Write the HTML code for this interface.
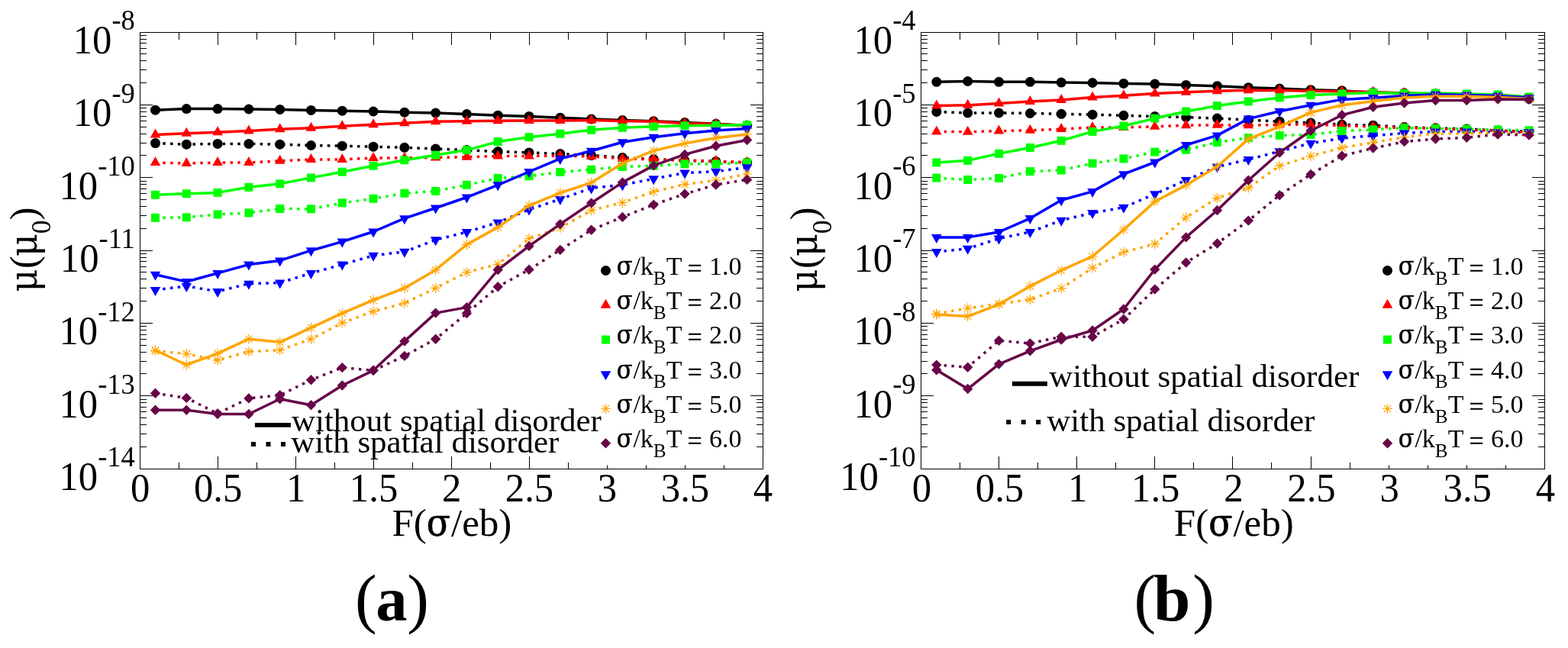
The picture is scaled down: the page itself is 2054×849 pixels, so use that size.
<!DOCTYPE html><html><head><meta charset="utf-8"><title>mobility plot</title><style>html,body{margin:0;padding:0;background:#fff;}svg{display:block;}</style></head><body><svg width="2054" height="849" viewBox="0 0 2054 849" font-family="'Liberation Serif', 'Times New Roman', serif"><rect width="2054" height="849" fill="#fff"/>
<path d="M234.5 614.5V605.5M234.5 42.5V51.5M285.5 614.5V598M285.5 42.5V59M336.5 614.5V605.5M336.5 42.5V51.5M387.5 614.5V598M387.5 42.5V59M438.5 614.5V605.5M438.5 42.5V51.5M489.5 614.5V598M489.5 42.5V59M540.5 614.5V605.5M540.5 42.5V51.5M591.5 614.5V598M591.5 42.5V59M642.5 614.5V605.5M642.5 42.5V51.5M693.5 614.5V598M693.5 42.5V59M744.5 614.5V605.5M744.5 42.5V51.5M795.5 614.5V598M795.5 42.5V59M846.5 614.5V605.5M846.5 42.5V51.5M897.5 614.5V598M897.5 42.5V59M948.5 614.5V605.5M948.5 42.5V51.5M183.5 137.5H200M999.5 137.5H983M183.5 108.5H192M999.5 108.5H991M183.5 91.5H192M999.5 91.5H991M183.5 79.5H192M999.5 79.5H991M183.5 70.5H192M999.5 70.5H991M183.5 63.5H192M999.5 63.5H991M183.5 56.5H192M999.5 56.5H991M183.5 51.5H192M999.5 51.5H991M183.5 46.5H192M999.5 46.5H991M183.5 232.5H200M999.5 232.5H983M183.5 203.5H192M999.5 203.5H991M183.5 187.5H192M999.5 187.5H991M183.5 175.5H192M999.5 175.5H991M183.5 166.5H192M999.5 166.5H991M183.5 158.5H192M999.5 158.5H991M183.5 152.5H192M999.5 152.5H991M183.5 146.5H192M999.5 146.5H991M183.5 141.5H192M999.5 141.5H991M183.5 328.5H200M999.5 328.5H983M183.5 299.5H192M999.5 299.5H991M183.5 282.5H192M999.5 282.5H991M183.5 270.5H192M999.5 270.5H991M183.5 261.5H192M999.5 261.5H991M183.5 253.5H192M999.5 253.5H991M183.5 247.5H192M999.5 247.5H991M183.5 241.5H192M999.5 241.5H991M183.5 237.5H192M999.5 237.5H991M183.5 423.5H200M999.5 423.5H983M183.5 394.5H192M999.5 394.5H991M183.5 377.5H192M999.5 377.5H991M183.5 365.5H192M999.5 365.5H991M183.5 356.5H192M999.5 356.5H991M183.5 349.5H192M999.5 349.5H991M183.5 342.5H192M999.5 342.5H991M183.5 337.5H192M999.5 337.5H991M183.5 332.5H192M999.5 332.5H991M183.5 518.5H200M999.5 518.5H983M183.5 489.5H192M999.5 489.5H991M183.5 473.5H192M999.5 473.5H991M183.5 461.5H192M999.5 461.5H991M183.5 452.5H192M999.5 452.5H991M183.5 444.5H192M999.5 444.5H991M183.5 438.5H192M999.5 438.5H991M183.5 432.5H192M999.5 432.5H991M183.5 427.5H192M999.5 427.5H991M183.5 585.5H192M999.5 585.5H991M183.5 568.5H192M999.5 568.5H991M183.5 556.5H192M999.5 556.5H991M183.5 547.5H192M999.5 547.5H991M183.5 539.5H192M999.5 539.5H991M183.5 533.5H192M999.5 533.5H991M183.5 527.5H192M999.5 527.5H991M183.5 523.5H192M999.5 523.5H991" stroke="#000" stroke-width="1" fill="none" shape-rendering="crispEdges"/>
<rect x="183.5" y="42.5" width="816" height="572" fill="none" stroke="#000" stroke-width="1" shape-rendering="crispEdges"/>
<text transform="translate(183.6,657.2) scale(1,1.04)" font-size="50.7" text-anchor="middle">0</text>
<text transform="translate(285.59,657.2) scale(1,1.04)" font-size="50.7" text-anchor="middle">0.5</text>
<text transform="translate(387.57,657.2) scale(1,1.04)" font-size="50.7" text-anchor="middle">1</text>
<text transform="translate(489.56,657.2) scale(1,1.04)" font-size="50.7" text-anchor="middle">1.5</text>
<text transform="translate(591.55,657.2) scale(1,1.04)" font-size="50.7" text-anchor="middle">2</text>
<text transform="translate(693.54,657.2) scale(1,1.04)" font-size="50.7" text-anchor="middle">2.5</text>
<text transform="translate(795.52,657.2) scale(1,1.04)" font-size="50.7" text-anchor="middle">3</text>
<text transform="translate(897.51,657.2) scale(1,1.04)" font-size="50.7" text-anchor="middle">3.5</text>
<text transform="translate(999.5,657.2) scale(1,1.04)" font-size="50.7" text-anchor="middle">4</text>
<text transform="translate(176.8,70) scale(1,1.04)" font-size="50.7" text-anchor="end">10<tspan font-size="36.5" dy="-29.5">-8</tspan></text>
<text transform="translate(176.8,165.3) scale(1,1.04)" font-size="50.7" text-anchor="end">10<tspan font-size="36.5" dy="-29.5">-9</tspan></text>
<text transform="translate(176.8,260.6) scale(1,1.04)" font-size="50.7" text-anchor="end">10<tspan font-size="36.5" dy="-29.5">-10</tspan></text>
<text transform="translate(176.8,355.9) scale(1,1.04)" font-size="50.7" text-anchor="end">10<tspan font-size="36.5" dy="-29.5">-11</tspan></text>
<text transform="translate(176.8,451.2) scale(1,1.04)" font-size="50.7" text-anchor="end">10<tspan font-size="36.5" dy="-29.5">-12</tspan></text>
<text transform="translate(176.8,546.5) scale(1,1.04)" font-size="50.7" text-anchor="end">10<tspan font-size="36.5" dy="-29.5">-13</tspan></text>
<text transform="translate(176.8,641.8) scale(1,1.04)" font-size="50.7" text-anchor="end">10<tspan font-size="36.5" dy="-29.5">-14</tspan></text>
<polyline points="203.5,144.2 244.29,142.6 285.09,142.6 325.88,143 366.68,143.4 407.47,144.4 448.27,145.2 489.06,146 529.86,147.2 570.65,148 611.45,149.5 652.24,151.2 693.04,152.4 733.83,154.2 774.63,156 815.42,157.5 856.22,158.8 897.01,160.5 937.81,162.3 978.6,164.5" fill="none" stroke="#000000" stroke-width="3.5" stroke-linejoin="round"/>
<circle cx="203.5" cy="144.2" r="6.5" fill="#000000"/>
<circle cx="244.29" cy="142.6" r="6.5" fill="#000000"/>
<circle cx="285.09" cy="142.6" r="6.5" fill="#000000"/>
<circle cx="325.88" cy="143" r="6.5" fill="#000000"/>
<circle cx="366.68" cy="143.4" r="6.5" fill="#000000"/>
<circle cx="407.47" cy="144.4" r="6.5" fill="#000000"/>
<circle cx="448.27" cy="145.2" r="6.5" fill="#000000"/>
<circle cx="489.06" cy="146" r="6.5" fill="#000000"/>
<circle cx="529.86" cy="147.2" r="6.5" fill="#000000"/>
<circle cx="570.65" cy="148" r="6.5" fill="#000000"/>
<circle cx="611.45" cy="149.5" r="6.5" fill="#000000"/>
<circle cx="652.24" cy="151.2" r="6.5" fill="#000000"/>
<circle cx="693.04" cy="152.4" r="6.5" fill="#000000"/>
<circle cx="733.83" cy="154.2" r="6.5" fill="#000000"/>
<circle cx="774.63" cy="156" r="6.5" fill="#000000"/>
<circle cx="815.42" cy="157.5" r="6.5" fill="#000000"/>
<circle cx="856.22" cy="158.8" r="6.5" fill="#000000"/>
<circle cx="897.01" cy="160.5" r="6.5" fill="#000000"/>
<circle cx="937.81" cy="162.3" r="6.5" fill="#000000"/>
<circle cx="978.6" cy="164.5" r="6.5" fill="#000000"/>
<polyline points="203.5,187.6 244.29,189.2 285.09,188.4 325.88,188.4 366.68,189.2 407.47,190.5 448.27,191.2 489.06,192.2 529.86,193.3 570.65,195 611.45,196.6 652.24,198.6 693.04,199.9 733.83,201.6 774.63,203.6 815.42,206.5 856.22,208.5 897.01,210.5 937.81,211.5 978.6,213" fill="none" stroke="#000000" stroke-width="3.5" stroke-linejoin="round" stroke-dasharray="3.5 6.3"/>
<circle cx="203.5" cy="187.6" r="6.5" fill="#000000"/>
<circle cx="244.29" cy="189.2" r="6.5" fill="#000000"/>
<circle cx="285.09" cy="188.4" r="6.5" fill="#000000"/>
<circle cx="325.88" cy="188.4" r="6.5" fill="#000000"/>
<circle cx="366.68" cy="189.2" r="6.5" fill="#000000"/>
<circle cx="407.47" cy="190.5" r="6.5" fill="#000000"/>
<circle cx="448.27" cy="191.2" r="6.5" fill="#000000"/>
<circle cx="489.06" cy="192.2" r="6.5" fill="#000000"/>
<circle cx="529.86" cy="193.3" r="6.5" fill="#000000"/>
<circle cx="570.65" cy="195" r="6.5" fill="#000000"/>
<circle cx="611.45" cy="196.6" r="6.5" fill="#000000"/>
<circle cx="652.24" cy="198.6" r="6.5" fill="#000000"/>
<circle cx="693.04" cy="199.9" r="6.5" fill="#000000"/>
<circle cx="733.83" cy="201.6" r="6.5" fill="#000000"/>
<circle cx="774.63" cy="203.6" r="6.5" fill="#000000"/>
<circle cx="815.42" cy="206.5" r="6.5" fill="#000000"/>
<circle cx="856.22" cy="208.5" r="6.5" fill="#000000"/>
<circle cx="897.01" cy="210.5" r="6.5" fill="#000000"/>
<circle cx="937.81" cy="211.5" r="6.5" fill="#000000"/>
<circle cx="978.6" cy="213" r="6.5" fill="#000000"/>
<polyline points="203.5,176.5 244.29,174.8 285.09,173.2 325.88,171.5 366.68,169.3 407.47,167.8 448.27,165.3 489.06,163.2 529.86,161.2 570.65,159.2 611.45,158.7 652.24,158.2 693.04,157.9 733.83,157.9 774.63,157.6 815.42,158.4 856.22,159.2 897.01,161.4 937.81,162.5 978.6,164.7" fill="none" stroke="#ff0000" stroke-width="3.5" stroke-linejoin="round"/>
<polygon points="203.5,168.5 196.7,180.5 210.3,180.5" fill="#ff0000"/>
<polygon points="244.29,166.8 237.49,178.8 251.09,178.8" fill="#ff0000"/>
<polygon points="285.09,165.2 278.29,177.2 291.89,177.2" fill="#ff0000"/>
<polygon points="325.88,163.5 319.08,175.5 332.68,175.5" fill="#ff0000"/>
<polygon points="366.68,161.3 359.88,173.3 373.48,173.3" fill="#ff0000"/>
<polygon points="407.47,159.8 400.67,171.8 414.27,171.8" fill="#ff0000"/>
<polygon points="448.27,157.3 441.47,169.3 455.07,169.3" fill="#ff0000"/>
<polygon points="489.06,155.2 482.26,167.2 495.86,167.2" fill="#ff0000"/>
<polygon points="529.86,153.2 523.06,165.2 536.66,165.2" fill="#ff0000"/>
<polygon points="570.65,151.2 563.85,163.2 577.45,163.2" fill="#ff0000"/>
<polygon points="611.45,150.7 604.65,162.7 618.25,162.7" fill="#ff0000"/>
<polygon points="652.24,150.2 645.44,162.2 659.04,162.2" fill="#ff0000"/>
<polygon points="693.04,149.9 686.24,161.9 699.84,161.9" fill="#ff0000"/>
<polygon points="733.83,149.9 727.03,161.9 740.63,161.9" fill="#ff0000"/>
<polygon points="774.63,149.6 767.83,161.6 781.43,161.6" fill="#ff0000"/>
<polygon points="815.42,150.4 808.62,162.4 822.22,162.4" fill="#ff0000"/>
<polygon points="856.22,151.2 849.42,163.2 863.02,163.2" fill="#ff0000"/>
<polygon points="897.01,153.4 890.21,165.4 903.81,165.4" fill="#ff0000"/>
<polygon points="937.81,154.5 931.01,166.5 944.61,166.5" fill="#ff0000"/>
<polygon points="978.6,156.7 971.8,168.7 985.4,168.7" fill="#ff0000"/>
<polyline points="203.5,213.1 244.29,214 285.09,213.1 325.88,213.1 366.68,210.7 407.47,209 448.27,209 489.06,207 529.86,206.9 570.65,206.5 611.45,205.7 652.24,204.4 693.04,204.4 733.83,204.1 774.63,204.9 815.42,207.9 856.22,208.7 897.01,209.8 937.81,211.1 978.6,212.8" fill="none" stroke="#ff0000" stroke-width="3.5" stroke-linejoin="round" stroke-dasharray="3.5 6.3"/>
<polygon points="203.5,205.1 196.7,217.1 210.3,217.1" fill="#ff0000"/>
<polygon points="244.29,206 237.49,218 251.09,218" fill="#ff0000"/>
<polygon points="285.09,205.1 278.29,217.1 291.89,217.1" fill="#ff0000"/>
<polygon points="325.88,205.1 319.08,217.1 332.68,217.1" fill="#ff0000"/>
<polygon points="366.68,202.7 359.88,214.7 373.48,214.7" fill="#ff0000"/>
<polygon points="407.47,201 400.67,213 414.27,213" fill="#ff0000"/>
<polygon points="448.27,201 441.47,213 455.07,213" fill="#ff0000"/>
<polygon points="489.06,199 482.26,211 495.86,211" fill="#ff0000"/>
<polygon points="529.86,198.9 523.06,210.9 536.66,210.9" fill="#ff0000"/>
<polygon points="570.65,198.5 563.85,210.5 577.45,210.5" fill="#ff0000"/>
<polygon points="611.45,197.7 604.65,209.7 618.25,209.7" fill="#ff0000"/>
<polygon points="652.24,196.4 645.44,208.4 659.04,208.4" fill="#ff0000"/>
<polygon points="693.04,196.4 686.24,208.4 699.84,208.4" fill="#ff0000"/>
<polygon points="733.83,196.1 727.03,208.1 740.63,208.1" fill="#ff0000"/>
<polygon points="774.63,196.9 767.83,208.9 781.43,208.9" fill="#ff0000"/>
<polygon points="815.42,199.9 808.62,211.9 822.22,211.9" fill="#ff0000"/>
<polygon points="856.22,200.7 849.42,212.7 863.02,212.7" fill="#ff0000"/>
<polygon points="897.01,201.8 890.21,213.8 903.81,213.8" fill="#ff0000"/>
<polygon points="937.81,203.1 931.01,215.1 944.61,215.1" fill="#ff0000"/>
<polygon points="978.6,204.8 971.8,216.8 985.4,216.8" fill="#ff0000"/>
<polyline points="203.5,255.3 244.29,253.8 285.09,252.4 325.88,245.3 366.68,240.8 407.47,232.9 448.27,225.2 489.06,217.2 529.86,209.8 570.65,203.2 611.45,196.6 652.24,185.6 693.04,179.7 733.83,175.2 774.63,170.3 815.42,167.3 856.22,165.8 897.01,164.8 937.81,164.2 978.6,163.7" fill="none" stroke="#00ff00" stroke-width="3.5" stroke-linejoin="round"/>
<rect x="198" y="249.8" width="11" height="11" fill="#00ff00"/>
<rect x="238.79" y="248.3" width="11" height="11" fill="#00ff00"/>
<rect x="279.59" y="246.9" width="11" height="11" fill="#00ff00"/>
<rect x="320.38" y="239.8" width="11" height="11" fill="#00ff00"/>
<rect x="361.18" y="235.3" width="11" height="11" fill="#00ff00"/>
<rect x="401.97" y="227.4" width="11" height="11" fill="#00ff00"/>
<rect x="442.77" y="219.7" width="11" height="11" fill="#00ff00"/>
<rect x="483.56" y="211.7" width="11" height="11" fill="#00ff00"/>
<rect x="524.36" y="204.3" width="11" height="11" fill="#00ff00"/>
<rect x="565.15" y="197.7" width="11" height="11" fill="#00ff00"/>
<rect x="605.95" y="191.1" width="11" height="11" fill="#00ff00"/>
<rect x="646.74" y="180.1" width="11" height="11" fill="#00ff00"/>
<rect x="687.54" y="174.2" width="11" height="11" fill="#00ff00"/>
<rect x="728.33" y="169.7" width="11" height="11" fill="#00ff00"/>
<rect x="769.13" y="164.8" width="11" height="11" fill="#00ff00"/>
<rect x="809.92" y="161.8" width="11" height="11" fill="#00ff00"/>
<rect x="850.72" y="160.3" width="11" height="11" fill="#00ff00"/>
<rect x="891.51" y="159.3" width="11" height="11" fill="#00ff00"/>
<rect x="932.31" y="158.7" width="11" height="11" fill="#00ff00"/>
<rect x="973.1" y="158.2" width="11" height="11" fill="#00ff00"/>
<polyline points="203.5,285.3 244.29,284.8 285.09,280.9 325.88,278.9 366.68,273.5 407.47,273.8 448.27,265.9 489.06,260.3 529.86,253.2 570.65,250.4 611.45,242.3 652.24,233.4 693.04,230.8 733.83,225.5 774.63,222.2 815.42,218.4 856.22,217.2 897.01,214.8 937.81,214.8 978.6,213.1" fill="none" stroke="#00ff00" stroke-width="3.5" stroke-linejoin="round" stroke-dasharray="3.5 6.3"/>
<rect x="198" y="279.8" width="11" height="11" fill="#00ff00"/>
<rect x="238.79" y="279.3" width="11" height="11" fill="#00ff00"/>
<rect x="279.59" y="275.4" width="11" height="11" fill="#00ff00"/>
<rect x="320.38" y="273.4" width="11" height="11" fill="#00ff00"/>
<rect x="361.18" y="268" width="11" height="11" fill="#00ff00"/>
<rect x="401.97" y="268.3" width="11" height="11" fill="#00ff00"/>
<rect x="442.77" y="260.4" width="11" height="11" fill="#00ff00"/>
<rect x="483.56" y="254.8" width="11" height="11" fill="#00ff00"/>
<rect x="524.36" y="247.7" width="11" height="11" fill="#00ff00"/>
<rect x="565.15" y="244.9" width="11" height="11" fill="#00ff00"/>
<rect x="605.95" y="236.8" width="11" height="11" fill="#00ff00"/>
<rect x="646.74" y="227.9" width="11" height="11" fill="#00ff00"/>
<rect x="687.54" y="225.3" width="11" height="11" fill="#00ff00"/>
<rect x="728.33" y="220" width="11" height="11" fill="#00ff00"/>
<rect x="769.13" y="216.7" width="11" height="11" fill="#00ff00"/>
<rect x="809.92" y="212.9" width="11" height="11" fill="#00ff00"/>
<rect x="850.72" y="211.7" width="11" height="11" fill="#00ff00"/>
<rect x="891.51" y="209.3" width="11" height="11" fill="#00ff00"/>
<rect x="932.31" y="209.3" width="11" height="11" fill="#00ff00"/>
<rect x="973.1" y="207.6" width="11" height="11" fill="#00ff00"/>
<polyline points="203.5,359.8 244.29,369.1 285.09,357.9 325.88,346.6 366.68,341.4 407.47,328.2 448.27,316.6 489.06,303.5 529.86,286.2 570.65,272.5 611.45,258.5 652.24,242.3 693.04,225 733.83,207.9 774.63,197.8 815.42,186.3 856.22,179.7 897.01,174.7 937.81,171.1 978.6,168.6" fill="none" stroke="#0000ff" stroke-width="3.5" stroke-linejoin="round"/>
<polygon points="203.5,367.8 196.7,355.8 210.3,355.8" fill="#0000ff"/>
<polygon points="244.29,377.1 237.49,365.1 251.09,365.1" fill="#0000ff"/>
<polygon points="285.09,365.9 278.29,353.9 291.89,353.9" fill="#0000ff"/>
<polygon points="325.88,354.6 319.08,342.6 332.68,342.6" fill="#0000ff"/>
<polygon points="366.68,349.4 359.88,337.4 373.48,337.4" fill="#0000ff"/>
<polygon points="407.47,336.2 400.67,324.2 414.27,324.2" fill="#0000ff"/>
<polygon points="448.27,324.6 441.47,312.6 455.07,312.6" fill="#0000ff"/>
<polygon points="489.06,311.5 482.26,299.5 495.86,299.5" fill="#0000ff"/>
<polygon points="529.86,294.2 523.06,282.2 536.66,282.2" fill="#0000ff"/>
<polygon points="570.65,280.5 563.85,268.5 577.45,268.5" fill="#0000ff"/>
<polygon points="611.45,266.5 604.65,254.5 618.25,254.5" fill="#0000ff"/>
<polygon points="652.24,250.3 645.44,238.3 659.04,238.3" fill="#0000ff"/>
<polygon points="693.04,233 686.24,221 699.84,221" fill="#0000ff"/>
<polygon points="733.83,215.9 727.03,203.9 740.63,203.9" fill="#0000ff"/>
<polygon points="774.63,205.8 767.83,193.8 781.43,193.8" fill="#0000ff"/>
<polygon points="815.42,194.3 808.62,182.3 822.22,182.3" fill="#0000ff"/>
<polygon points="856.22,187.7 849.42,175.7 863.02,175.7" fill="#0000ff"/>
<polygon points="897.01,182.7 890.21,170.7 903.81,170.7" fill="#0000ff"/>
<polygon points="937.81,179.1 931.01,167.1 944.61,167.1" fill="#0000ff"/>
<polygon points="978.6,176.6 971.8,164.6 985.4,164.6" fill="#0000ff"/>
<polyline points="203.5,379.9 244.29,374.9 285.09,381.9 325.88,371.7 366.68,370.5 407.47,357.9 448.27,346.6 489.06,334.8 529.86,329.8 570.65,314.2 611.45,304 652.24,291.4 693.04,274.6 733.83,260.9 774.63,246.5 815.42,242.2 856.22,234.3 897.01,226.5 937.81,224.7 978.6,219.3" fill="none" stroke="#0000ff" stroke-width="3.5" stroke-linejoin="round" stroke-dasharray="3.5 6.3"/>
<polygon points="203.5,387.9 196.7,375.9 210.3,375.9" fill="#0000ff"/>
<polygon points="244.29,382.9 237.49,370.9 251.09,370.9" fill="#0000ff"/>
<polygon points="285.09,389.9 278.29,377.9 291.89,377.9" fill="#0000ff"/>
<polygon points="325.88,379.7 319.08,367.7 332.68,367.7" fill="#0000ff"/>
<polygon points="366.68,378.5 359.88,366.5 373.48,366.5" fill="#0000ff"/>
<polygon points="407.47,365.9 400.67,353.9 414.27,353.9" fill="#0000ff"/>
<polygon points="448.27,354.6 441.47,342.6 455.07,342.6" fill="#0000ff"/>
<polygon points="489.06,342.8 482.26,330.8 495.86,330.8" fill="#0000ff"/>
<polygon points="529.86,337.8 523.06,325.8 536.66,325.8" fill="#0000ff"/>
<polygon points="570.65,322.2 563.85,310.2 577.45,310.2" fill="#0000ff"/>
<polygon points="611.45,312 604.65,300 618.25,300" fill="#0000ff"/>
<polygon points="652.24,299.4 645.44,287.4 659.04,287.4" fill="#0000ff"/>
<polygon points="693.04,282.6 686.24,270.6 699.84,270.6" fill="#0000ff"/>
<polygon points="733.83,268.9 727.03,256.9 740.63,256.9" fill="#0000ff"/>
<polygon points="774.63,254.5 767.83,242.5 781.43,242.5" fill="#0000ff"/>
<polygon points="815.42,250.2 808.62,238.2 822.22,238.2" fill="#0000ff"/>
<polygon points="856.22,242.3 849.42,230.3 863.02,230.3" fill="#0000ff"/>
<polygon points="897.01,234.5 890.21,222.5 903.81,222.5" fill="#0000ff"/>
<polygon points="937.81,232.7 931.01,220.7 944.61,220.7" fill="#0000ff"/>
<polygon points="978.6,227.3 971.8,215.3 985.4,215.3" fill="#0000ff"/>
<polyline points="203.5,459 244.29,478 285.09,463.1 325.88,444.2 366.68,448.3 407.47,429.3 448.27,410.4 489.06,393.1 529.86,377.4 570.65,353.7 611.45,320.4 652.24,297.7 693.04,269.3 733.83,252.7 774.63,239.3 815.42,214 856.22,197.5 897.01,187.9 937.81,180.7 978.6,176" fill="none" stroke="#ffa500" stroke-width="3.5" stroke-linejoin="round"/>
<path d="M203.5 452.5V465.5M197 459H210M198.9 454.4L208.1 463.6M198.9 463.6L208.1 454.4" stroke="#ffa500" stroke-width="1.2" fill="none"/>
<path d="M244.29 471.5V484.5M237.79 478H250.79M239.69 473.4L248.89 482.6M239.69 482.6L248.89 473.4" stroke="#ffa500" stroke-width="1.2" fill="none"/>
<path d="M285.09 456.6V469.6M278.59 463.1H291.59M280.49 458.5L289.69 467.7M280.49 467.7L289.69 458.5" stroke="#ffa500" stroke-width="1.2" fill="none"/>
<path d="M325.88 437.7V450.7M319.38 444.2H332.38M321.28 439.6L330.48 448.8M321.28 448.8L330.48 439.6" stroke="#ffa500" stroke-width="1.2" fill="none"/>
<path d="M366.68 441.8V454.8M360.18 448.3H373.18M362.08 443.7L371.28 452.9M362.08 452.9L371.28 443.7" stroke="#ffa500" stroke-width="1.2" fill="none"/>
<path d="M407.47 422.8V435.8M400.97 429.3H413.97M402.87 424.7L412.07 433.9M402.87 433.9L412.07 424.7" stroke="#ffa500" stroke-width="1.2" fill="none"/>
<path d="M448.27 403.9V416.9M441.77 410.4H454.77M443.67 405.8L452.87 415M443.67 415L452.87 405.8" stroke="#ffa500" stroke-width="1.2" fill="none"/>
<path d="M489.06 386.6V399.6M482.56 393.1H495.56M484.46 388.5L493.66 397.7M484.46 397.7L493.66 388.5" stroke="#ffa500" stroke-width="1.2" fill="none"/>
<path d="M529.86 370.9V383.9M523.36 377.4H536.36M525.26 372.8L534.46 382M525.26 382L534.46 372.8" stroke="#ffa500" stroke-width="1.2" fill="none"/>
<path d="M570.65 347.2V360.2M564.15 353.7H577.15M566.05 349.1L575.25 358.3M566.05 358.3L575.25 349.1" stroke="#ffa500" stroke-width="1.2" fill="none"/>
<path d="M611.45 313.9V326.9M604.95 320.4H617.95M606.85 315.8L616.05 325M606.85 325L616.05 315.8" stroke="#ffa500" stroke-width="1.2" fill="none"/>
<path d="M652.24 291.2V304.2M645.74 297.7H658.74M647.64 293.1L656.84 302.3M647.64 302.3L656.84 293.1" stroke="#ffa500" stroke-width="1.2" fill="none"/>
<path d="M693.04 262.8V275.8M686.54 269.3H699.54M688.44 264.7L697.64 273.9M688.44 273.9L697.64 264.7" stroke="#ffa500" stroke-width="1.2" fill="none"/>
<path d="M733.83 246.2V259.2M727.33 252.7H740.33M729.23 248.1L738.43 257.3M729.23 257.3L738.43 248.1" stroke="#ffa500" stroke-width="1.2" fill="none"/>
<path d="M774.63 232.8V245.8M768.13 239.3H781.13M770.03 234.7L779.23 243.9M770.03 243.9L779.23 234.7" stroke="#ffa500" stroke-width="1.2" fill="none"/>
<path d="M815.42 207.5V220.5M808.92 214H821.92M810.82 209.4L820.02 218.6M810.82 218.6L820.02 209.4" stroke="#ffa500" stroke-width="1.2" fill="none"/>
<path d="M856.22 191V204M849.72 197.5H862.72M851.62 192.9L860.82 202.1M851.62 202.1L860.82 192.9" stroke="#ffa500" stroke-width="1.2" fill="none"/>
<path d="M897.01 181.4V194.4M890.51 187.9H903.51M892.41 183.3L901.61 192.5M892.41 192.5L901.61 183.3" stroke="#ffa500" stroke-width="1.2" fill="none"/>
<path d="M937.81 174.2V187.2M931.31 180.7H944.31M933.21 176.1L942.41 185.3M933.21 185.3L942.41 176.1" stroke="#ffa500" stroke-width="1.2" fill="none"/>
<path d="M978.6 169.5V182.5M972.1 176H985.1M974 171.4L983.2 180.6M974 180.6L983.2 171.4" stroke="#ffa500" stroke-width="1.2" fill="none"/>
<polyline points="203.5,459.8 244.29,463.6 285.09,471.9 325.88,460.7 366.68,458.7 407.47,444.2 448.27,423.1 489.06,407.9 529.86,397.2 570.65,377.4 611.45,356.7 652.24,346.3 693.04,312.5 733.83,298.5 774.63,275.4 815.42,265.4 856.22,251.2 897.01,241.5 937.81,236.2 978.6,228" fill="none" stroke="#ffa500" stroke-width="3.5" stroke-linejoin="round" stroke-dasharray="3.5 6.3"/>
<path d="M203.5 453.3V466.3M197 459.8H210M198.9 455.2L208.1 464.4M198.9 464.4L208.1 455.2" stroke="#ffa500" stroke-width="1.2" fill="none"/>
<path d="M244.29 457.1V470.1M237.79 463.6H250.79M239.69 459L248.89 468.2M239.69 468.2L248.89 459" stroke="#ffa500" stroke-width="1.2" fill="none"/>
<path d="M285.09 465.4V478.4M278.59 471.9H291.59M280.49 467.3L289.69 476.5M280.49 476.5L289.69 467.3" stroke="#ffa500" stroke-width="1.2" fill="none"/>
<path d="M325.88 454.2V467.2M319.38 460.7H332.38M321.28 456.1L330.48 465.3M321.28 465.3L330.48 456.1" stroke="#ffa500" stroke-width="1.2" fill="none"/>
<path d="M366.68 452.2V465.2M360.18 458.7H373.18M362.08 454.1L371.28 463.3M362.08 463.3L371.28 454.1" stroke="#ffa500" stroke-width="1.2" fill="none"/>
<path d="M407.47 437.7V450.7M400.97 444.2H413.97M402.87 439.6L412.07 448.8M402.87 448.8L412.07 439.6" stroke="#ffa500" stroke-width="1.2" fill="none"/>
<path d="M448.27 416.6V429.6M441.77 423.1H454.77M443.67 418.5L452.87 427.7M443.67 427.7L452.87 418.5" stroke="#ffa500" stroke-width="1.2" fill="none"/>
<path d="M489.06 401.4V414.4M482.56 407.9H495.56M484.46 403.3L493.66 412.5M484.46 412.5L493.66 403.3" stroke="#ffa500" stroke-width="1.2" fill="none"/>
<path d="M529.86 390.7V403.7M523.36 397.2H536.36M525.26 392.6L534.46 401.8M525.26 401.8L534.46 392.6" stroke="#ffa500" stroke-width="1.2" fill="none"/>
<path d="M570.65 370.9V383.9M564.15 377.4H577.15M566.05 372.8L575.25 382M566.05 382L575.25 372.8" stroke="#ffa500" stroke-width="1.2" fill="none"/>
<path d="M611.45 350.2V363.2M604.95 356.7H617.95M606.85 352.1L616.05 361.3M606.85 361.3L616.05 352.1" stroke="#ffa500" stroke-width="1.2" fill="none"/>
<path d="M652.24 339.8V352.8M645.74 346.3H658.74M647.64 341.7L656.84 350.9M647.64 350.9L656.84 341.7" stroke="#ffa500" stroke-width="1.2" fill="none"/>
<path d="M693.04 306V319M686.54 312.5H699.54M688.44 307.9L697.64 317.1M688.44 317.1L697.64 307.9" stroke="#ffa500" stroke-width="1.2" fill="none"/>
<path d="M733.83 292V305M727.33 298.5H740.33M729.23 293.9L738.43 303.1M729.23 303.1L738.43 293.9" stroke="#ffa500" stroke-width="1.2" fill="none"/>
<path d="M774.63 268.9V281.9M768.13 275.4H781.13M770.03 270.8L779.23 280M770.03 280L779.23 270.8" stroke="#ffa500" stroke-width="1.2" fill="none"/>
<path d="M815.42 258.9V271.9M808.92 265.4H821.92M810.82 260.8L820.02 270M810.82 270L820.02 260.8" stroke="#ffa500" stroke-width="1.2" fill="none"/>
<path d="M856.22 244.7V257.7M849.72 251.2H862.72M851.62 246.6L860.82 255.8M851.62 255.8L860.82 246.6" stroke="#ffa500" stroke-width="1.2" fill="none"/>
<path d="M897.01 235V248M890.51 241.5H903.51M892.41 236.9L901.61 246.1M892.41 246.1L901.61 236.9" stroke="#ffa500" stroke-width="1.2" fill="none"/>
<path d="M937.81 229.7V242.7M931.31 236.2H944.31M933.21 231.6L942.41 240.8M933.21 240.8L942.41 231.6" stroke="#ffa500" stroke-width="1.2" fill="none"/>
<path d="M978.6 221.5V234.5M972.1 228H985.1M974 223.4L983.2 232.6M974 232.6L983.2 223.4" stroke="#ffa500" stroke-width="1.2" fill="none"/>
<polyline points="203.5,537.2 244.29,537.2 285.09,542.5 325.88,542.5 366.68,522.7 407.47,530.7 448.27,505 489.06,485.3 529.86,447.1 570.65,410.1 611.45,402.6 652.24,353.5 693.04,322.4 733.83,293.6 774.63,266 815.42,238.9 856.22,216.9 897.01,202.4 937.81,191.2 978.6,183.5" fill="none" stroke="#670748" stroke-width="3.5" stroke-linejoin="round"/>
<polygon points="203.5,530.5 210.2,537.2 203.5,543.9 196.8,537.2" fill="#670748"/>
<polygon points="244.29,530.5 250.99,537.2 244.29,543.9 237.59,537.2" fill="#670748"/>
<polygon points="285.09,535.8 291.79,542.5 285.09,549.2 278.39,542.5" fill="#670748"/>
<polygon points="325.88,535.8 332.58,542.5 325.88,549.2 319.18,542.5" fill="#670748"/>
<polygon points="366.68,516 373.38,522.7 366.68,529.4 359.98,522.7" fill="#670748"/>
<polygon points="407.47,524 414.17,530.7 407.47,537.4 400.77,530.7" fill="#670748"/>
<polygon points="448.27,498.3 454.97,505 448.27,511.7 441.57,505" fill="#670748"/>
<polygon points="489.06,478.6 495.76,485.3 489.06,492 482.36,485.3" fill="#670748"/>
<polygon points="529.86,440.4 536.56,447.1 529.86,453.8 523.16,447.1" fill="#670748"/>
<polygon points="570.65,403.4 577.35,410.1 570.65,416.8 563.95,410.1" fill="#670748"/>
<polygon points="611.45,395.9 618.15,402.6 611.45,409.3 604.75,402.6" fill="#670748"/>
<polygon points="652.24,346.8 658.94,353.5 652.24,360.2 645.54,353.5" fill="#670748"/>
<polygon points="693.04,315.7 699.74,322.4 693.04,329.1 686.34,322.4" fill="#670748"/>
<polygon points="733.83,286.9 740.53,293.6 733.83,300.3 727.13,293.6" fill="#670748"/>
<polygon points="774.63,259.3 781.33,266 774.63,272.7 767.93,266" fill="#670748"/>
<polygon points="815.42,232.2 822.12,238.9 815.42,245.6 808.72,238.9" fill="#670748"/>
<polygon points="856.22,210.2 862.92,216.9 856.22,223.6 849.52,216.9" fill="#670748"/>
<polygon points="897.01,195.7 903.71,202.4 897.01,209.1 890.31,202.4" fill="#670748"/>
<polygon points="937.81,184.5 944.51,191.2 937.81,197.9 931.11,191.2" fill="#670748"/>
<polygon points="978.6,176.8 985.3,183.5 978.6,190.2 971.9,183.5" fill="#670748"/>
<polyline points="203.5,515.3 244.29,521.4 285.09,541.7 325.88,521.9 366.68,517.8 407.47,497.8 448.27,481.6 489.06,485.4 529.86,466.4 570.65,444.2 611.45,410.5 652.24,375.7 693.04,353.3 733.83,327.4 774.63,301.3 815.42,284.4 856.22,268.2 897.01,254.1 937.81,242 978.6,235.4" fill="none" stroke="#670748" stroke-width="3.5" stroke-linejoin="round" stroke-dasharray="3.5 6.3"/>
<polygon points="203.5,508.6 210.2,515.3 203.5,522 196.8,515.3" fill="#670748"/>
<polygon points="244.29,514.7 250.99,521.4 244.29,528.1 237.59,521.4" fill="#670748"/>
<polygon points="285.09,535 291.79,541.7 285.09,548.4 278.39,541.7" fill="#670748"/>
<polygon points="325.88,515.2 332.58,521.9 325.88,528.6 319.18,521.9" fill="#670748"/>
<polygon points="366.68,511.1 373.38,517.8 366.68,524.5 359.98,517.8" fill="#670748"/>
<polygon points="407.47,491.1 414.17,497.8 407.47,504.5 400.77,497.8" fill="#670748"/>
<polygon points="448.27,474.9 454.97,481.6 448.27,488.3 441.57,481.6" fill="#670748"/>
<polygon points="489.06,478.7 495.76,485.4 489.06,492.1 482.36,485.4" fill="#670748"/>
<polygon points="529.86,459.7 536.56,466.4 529.86,473.1 523.16,466.4" fill="#670748"/>
<polygon points="570.65,437.5 577.35,444.2 570.65,450.9 563.95,444.2" fill="#670748"/>
<polygon points="611.45,403.8 618.15,410.5 611.45,417.2 604.75,410.5" fill="#670748"/>
<polygon points="652.24,369 658.94,375.7 652.24,382.4 645.54,375.7" fill="#670748"/>
<polygon points="693.04,346.6 699.74,353.3 693.04,360 686.34,353.3" fill="#670748"/>
<polygon points="733.83,320.7 740.53,327.4 733.83,334.1 727.13,327.4" fill="#670748"/>
<polygon points="774.63,294.6 781.33,301.3 774.63,308 767.93,301.3" fill="#670748"/>
<polygon points="815.42,277.7 822.12,284.4 815.42,291.1 808.72,284.4" fill="#670748"/>
<polygon points="856.22,261.5 862.92,268.2 856.22,274.9 849.52,268.2" fill="#670748"/>
<polygon points="897.01,247.4 903.71,254.1 897.01,260.8 890.31,254.1" fill="#670748"/>
<polygon points="937.81,235.3 944.51,242 937.81,248.7 931.11,242" fill="#670748"/>
<polygon points="978.6,228.7 985.3,235.4 978.6,242.1 971.9,235.4" fill="#670748"/>
<path d="M1257.5 614.5V605.5M1257.5 42.5V51.5M1308.5 614.5V598M1308.5 42.5V59M1359.5 614.5V605.5M1359.5 42.5V51.5M1410.5 614.5V598M1410.5 42.5V59M1461.5 614.5V605.5M1461.5 42.5V51.5M1512.5 614.5V598M1512.5 42.5V59M1563.5 614.5V605.5M1563.5 42.5V51.5M1614.5 614.5V598M1614.5 42.5V59M1665.5 614.5V605.5M1665.5 42.5V51.5M1717.5 614.5V598M1717.5 42.5V59M1768.5 614.5V605.5M1768.5 42.5V51.5M1819.5 614.5V598M1819.5 42.5V59M1870.5 614.5V605.5M1870.5 42.5V51.5M1921.5 614.5V598M1921.5 42.5V59M1972.5 614.5V605.5M1972.5 42.5V51.5M1206.5 137.5H1223M2023.5 137.5H2007M1206.5 108.5H1215M2023.5 108.5H2015M1206.5 91.5H1215M2023.5 91.5H2015M1206.5 79.5H1215M2023.5 79.5H2015M1206.5 70.5H1215M2023.5 70.5H2015M1206.5 63.5H1215M2023.5 63.5H2015M1206.5 56.5H1215M2023.5 56.5H2015M1206.5 51.5H1215M2023.5 51.5H2015M1206.5 46.5H1215M2023.5 46.5H2015M1206.5 232.5H1223M2023.5 232.5H2007M1206.5 203.5H1215M2023.5 203.5H2015M1206.5 187.5H1215M2023.5 187.5H2015M1206.5 175.5H1215M2023.5 175.5H2015M1206.5 166.5H1215M2023.5 166.5H2015M1206.5 158.5H1215M2023.5 158.5H2015M1206.5 152.5H1215M2023.5 152.5H2015M1206.5 146.5H1215M2023.5 146.5H2015M1206.5 141.5H1215M2023.5 141.5H2015M1206.5 328.5H1223M2023.5 328.5H2007M1206.5 299.5H1215M2023.5 299.5H2015M1206.5 282.5H1215M2023.5 282.5H2015M1206.5 270.5H1215M2023.5 270.5H2015M1206.5 261.5H1215M2023.5 261.5H2015M1206.5 253.5H1215M2023.5 253.5H2015M1206.5 247.5H1215M2023.5 247.5H2015M1206.5 241.5H1215M2023.5 241.5H2015M1206.5 237.5H1215M2023.5 237.5H2015M1206.5 423.5H1223M2023.5 423.5H2007M1206.5 394.5H1215M2023.5 394.5H2015M1206.5 377.5H1215M2023.5 377.5H2015M1206.5 365.5H1215M2023.5 365.5H2015M1206.5 356.5H1215M2023.5 356.5H2015M1206.5 349.5H1215M2023.5 349.5H2015M1206.5 342.5H1215M2023.5 342.5H2015M1206.5 337.5H1215M2023.5 337.5H2015M1206.5 332.5H1215M2023.5 332.5H2015M1206.5 518.5H1223M2023.5 518.5H2007M1206.5 489.5H1215M2023.5 489.5H2015M1206.5 473.5H1215M2023.5 473.5H2015M1206.5 461.5H1215M2023.5 461.5H2015M1206.5 452.5H1215M2023.5 452.5H2015M1206.5 444.5H1215M2023.5 444.5H2015M1206.5 438.5H1215M2023.5 438.5H2015M1206.5 432.5H1215M2023.5 432.5H2015M1206.5 427.5H1215M2023.5 427.5H2015M1206.5 585.5H1215M2023.5 585.5H2015M1206.5 568.5H1215M2023.5 568.5H2015M1206.5 556.5H1215M2023.5 556.5H2015M1206.5 547.5H1215M2023.5 547.5H2015M1206.5 539.5H1215M2023.5 539.5H2015M1206.5 533.5H1215M2023.5 533.5H2015M1206.5 527.5H1215M2023.5 527.5H2015M1206.5 523.5H1215M2023.5 523.5H2015" stroke="#000" stroke-width="1" fill="none" shape-rendering="crispEdges"/>
<rect x="1206.5" y="42.5" width="817" height="572" fill="none" stroke="#000" stroke-width="1" shape-rendering="crispEdges"/>
<text transform="translate(1207.4,657.2) scale(1,1.04)" font-size="50.7" text-anchor="middle">0</text>
<text transform="translate(1309.53,657.2) scale(1,1.04)" font-size="50.7" text-anchor="middle">0.5</text>
<text transform="translate(1411.65,657.2) scale(1,1.04)" font-size="50.7" text-anchor="middle">1</text>
<text transform="translate(1513.78,657.2) scale(1,1.04)" font-size="50.7" text-anchor="middle">1.5</text>
<text transform="translate(1615.9,657.2) scale(1,1.04)" font-size="50.7" text-anchor="middle">2</text>
<text transform="translate(1718.03,657.2) scale(1,1.04)" font-size="50.7" text-anchor="middle">2.5</text>
<text transform="translate(1820.15,657.2) scale(1,1.04)" font-size="50.7" text-anchor="middle">3</text>
<text transform="translate(1922.28,657.2) scale(1,1.04)" font-size="50.7" text-anchor="middle">3.5</text>
<text transform="translate(2024.4,657.2) scale(1,1.04)" font-size="50.7" text-anchor="middle">4</text>
<text transform="translate(1199.6,70) scale(1,1.04)" font-size="50.7" text-anchor="end">10<tspan font-size="36.5" dy="-29.5">-4</tspan></text>
<text transform="translate(1199.6,165.3) scale(1,1.04)" font-size="50.7" text-anchor="end">10<tspan font-size="36.5" dy="-29.5">-5</tspan></text>
<text transform="translate(1199.6,260.6) scale(1,1.04)" font-size="50.7" text-anchor="end">10<tspan font-size="36.5" dy="-29.5">-6</tspan></text>
<text transform="translate(1199.6,355.9) scale(1,1.04)" font-size="50.7" text-anchor="end">10<tspan font-size="36.5" dy="-29.5">-7</tspan></text>
<text transform="translate(1199.6,451.2) scale(1,1.04)" font-size="50.7" text-anchor="end">10<tspan font-size="36.5" dy="-29.5">-8</tspan></text>
<text transform="translate(1199.6,546.5) scale(1,1.04)" font-size="50.7" text-anchor="end">10<tspan font-size="36.5" dy="-29.5">-9</tspan></text>
<text transform="translate(1199.6,641.8) scale(1,1.04)" font-size="50.7" text-anchor="end">10<tspan font-size="36.5" dy="-29.5">-10</tspan></text>
<polyline points="1226.83,107.3 1267.68,106.5 1308.53,107.3 1349.38,107.3 1390.23,108.1 1431.08,108.5 1471.93,109.4 1512.78,110.1 1553.62,111.4 1594.48,112.7 1635.33,114.7 1676.18,116 1717.03,117.7 1757.88,118.8 1798.73,121.3 1839.58,122 1880.43,123.5 1921.28,125 1962.12,127 2002.98,129.5" fill="none" stroke="#000000" stroke-width="3.5" stroke-linejoin="round"/>
<circle cx="1226.83" cy="107.3" r="6.5" fill="#000000"/>
<circle cx="1267.68" cy="106.5" r="6.5" fill="#000000"/>
<circle cx="1308.53" cy="107.3" r="6.5" fill="#000000"/>
<circle cx="1349.38" cy="107.3" r="6.5" fill="#000000"/>
<circle cx="1390.23" cy="108.1" r="6.5" fill="#000000"/>
<circle cx="1431.08" cy="108.5" r="6.5" fill="#000000"/>
<circle cx="1471.93" cy="109.4" r="6.5" fill="#000000"/>
<circle cx="1512.78" cy="110.1" r="6.5" fill="#000000"/>
<circle cx="1553.62" cy="111.4" r="6.5" fill="#000000"/>
<circle cx="1594.48" cy="112.7" r="6.5" fill="#000000"/>
<circle cx="1635.33" cy="114.7" r="6.5" fill="#000000"/>
<circle cx="1676.18" cy="116" r="6.5" fill="#000000"/>
<circle cx="1717.03" cy="117.7" r="6.5" fill="#000000"/>
<circle cx="1757.88" cy="118.8" r="6.5" fill="#000000"/>
<circle cx="1798.73" cy="121.3" r="6.5" fill="#000000"/>
<circle cx="1839.58" cy="122" r="6.5" fill="#000000"/>
<circle cx="1880.43" cy="123.5" r="6.5" fill="#000000"/>
<circle cx="1921.28" cy="125" r="6.5" fill="#000000"/>
<circle cx="1962.12" cy="127" r="6.5" fill="#000000"/>
<circle cx="2002.98" cy="129.5" r="6.5" fill="#000000"/>
<polyline points="1226.83,146.5 1267.68,148 1308.53,148 1349.38,148.5 1390.23,149.3 1431.08,150.2 1471.93,151.3 1512.78,152.6 1553.62,153.5 1594.48,155.1 1635.33,157.2 1676.18,159.2 1717.03,160.9 1757.88,163.3 1798.73,164.2 1839.58,166.6 1880.43,167.8 1921.28,169.1 1962.12,171 2002.98,172.4" fill="none" stroke="#000000" stroke-width="3.5" stroke-linejoin="round" stroke-dasharray="3.5 6.3"/>
<circle cx="1226.83" cy="146.5" r="6.5" fill="#000000"/>
<circle cx="1267.68" cy="148" r="6.5" fill="#000000"/>
<circle cx="1308.53" cy="148" r="6.5" fill="#000000"/>
<circle cx="1349.38" cy="148.5" r="6.5" fill="#000000"/>
<circle cx="1390.23" cy="149.3" r="6.5" fill="#000000"/>
<circle cx="1431.08" cy="150.2" r="6.5" fill="#000000"/>
<circle cx="1471.93" cy="151.3" r="6.5" fill="#000000"/>
<circle cx="1512.78" cy="152.6" r="6.5" fill="#000000"/>
<circle cx="1553.62" cy="153.5" r="6.5" fill="#000000"/>
<circle cx="1594.48" cy="155.1" r="6.5" fill="#000000"/>
<circle cx="1635.33" cy="157.2" r="6.5" fill="#000000"/>
<circle cx="1676.18" cy="159.2" r="6.5" fill="#000000"/>
<circle cx="1717.03" cy="160.9" r="6.5" fill="#000000"/>
<circle cx="1757.88" cy="163.3" r="6.5" fill="#000000"/>
<circle cx="1798.73" cy="164.2" r="6.5" fill="#000000"/>
<circle cx="1839.58" cy="166.6" r="6.5" fill="#000000"/>
<circle cx="1880.43" cy="167.8" r="6.5" fill="#000000"/>
<circle cx="1921.28" cy="169.1" r="6.5" fill="#000000"/>
<circle cx="1962.12" cy="171" r="6.5" fill="#000000"/>
<circle cx="2002.98" cy="172.4" r="6.5" fill="#000000"/>
<polyline points="1226.83,138.6 1267.68,137.8 1308.53,135.5 1349.38,133 1390.23,130.9 1431.08,127.6 1471.93,125.3 1512.78,122.6 1553.62,120.8 1594.48,119.3 1635.33,118.2 1676.18,118.5 1717.03,119.3 1757.88,119.8 1798.73,120.5 1839.58,122.1 1880.43,123.1 1921.28,125.4 1962.12,127.1 2002.98,129.2" fill="none" stroke="#ff0000" stroke-width="3.5" stroke-linejoin="round"/>
<polygon points="1226.83,130.6 1220.03,142.6 1233.62,142.6" fill="#ff0000"/>
<polygon points="1267.68,129.8 1260.88,141.8 1274.48,141.8" fill="#ff0000"/>
<polygon points="1308.53,127.5 1301.73,139.5 1315.33,139.5" fill="#ff0000"/>
<polygon points="1349.38,125 1342.58,137 1356.17,137" fill="#ff0000"/>
<polygon points="1390.23,122.9 1383.43,134.9 1397.03,134.9" fill="#ff0000"/>
<polygon points="1431.08,119.6 1424.28,131.6 1437.88,131.6" fill="#ff0000"/>
<polygon points="1471.93,117.3 1465.13,129.3 1478.73,129.3" fill="#ff0000"/>
<polygon points="1512.78,114.6 1505.98,126.6 1519.58,126.6" fill="#ff0000"/>
<polygon points="1553.62,112.8 1546.83,124.8 1560.42,124.8" fill="#ff0000"/>
<polygon points="1594.48,111.3 1587.68,123.3 1601.28,123.3" fill="#ff0000"/>
<polygon points="1635.33,110.2 1628.53,122.2 1642.12,122.2" fill="#ff0000"/>
<polygon points="1676.18,110.5 1669.38,122.5 1682.98,122.5" fill="#ff0000"/>
<polygon points="1717.03,111.3 1710.23,123.3 1723.83,123.3" fill="#ff0000"/>
<polygon points="1757.88,111.8 1751.08,123.8 1764.67,123.8" fill="#ff0000"/>
<polygon points="1798.73,112.5 1791.93,124.5 1805.53,124.5" fill="#ff0000"/>
<polygon points="1839.58,114.1 1832.78,126.1 1846.38,126.1" fill="#ff0000"/>
<polygon points="1880.43,115.1 1873.63,127.1 1887.23,127.1" fill="#ff0000"/>
<polygon points="1921.28,117.4 1914.48,129.4 1928.08,129.4" fill="#ff0000"/>
<polygon points="1962.12,119.1 1955.33,131.1 1968.92,131.1" fill="#ff0000"/>
<polygon points="2002.98,121.2 1996.18,133.2 2009.78,133.2" fill="#ff0000"/>
<polyline points="1226.83,172.4 1267.68,172.7 1308.53,171.6 1349.38,170.8 1390.23,169.1 1431.08,167.1 1471.93,167 1512.78,165.8 1553.62,164.2 1594.48,163.8 1635.33,164.2 1676.18,163.3 1717.03,163 1757.88,164.7 1798.73,166 1839.58,167.6 1880.43,168.3 1921.28,170.4 1962.12,171.3 2002.98,173.2" fill="none" stroke="#ff0000" stroke-width="3.5" stroke-linejoin="round" stroke-dasharray="3.5 6.3"/>
<polygon points="1226.83,164.4 1220.03,176.4 1233.62,176.4" fill="#ff0000"/>
<polygon points="1267.68,164.7 1260.88,176.7 1274.48,176.7" fill="#ff0000"/>
<polygon points="1308.53,163.6 1301.73,175.6 1315.33,175.6" fill="#ff0000"/>
<polygon points="1349.38,162.8 1342.58,174.8 1356.17,174.8" fill="#ff0000"/>
<polygon points="1390.23,161.1 1383.43,173.1 1397.03,173.1" fill="#ff0000"/>
<polygon points="1431.08,159.1 1424.28,171.1 1437.88,171.1" fill="#ff0000"/>
<polygon points="1471.93,159 1465.13,171 1478.73,171" fill="#ff0000"/>
<polygon points="1512.78,157.8 1505.98,169.8 1519.58,169.8" fill="#ff0000"/>
<polygon points="1553.62,156.2 1546.83,168.2 1560.42,168.2" fill="#ff0000"/>
<polygon points="1594.48,155.8 1587.68,167.8 1601.28,167.8" fill="#ff0000"/>
<polygon points="1635.33,156.2 1628.53,168.2 1642.12,168.2" fill="#ff0000"/>
<polygon points="1676.18,155.3 1669.38,167.3 1682.98,167.3" fill="#ff0000"/>
<polygon points="1717.03,155 1710.23,167 1723.83,167" fill="#ff0000"/>
<polygon points="1757.88,156.7 1751.08,168.7 1764.67,168.7" fill="#ff0000"/>
<polygon points="1798.73,158 1791.93,170 1805.53,170" fill="#ff0000"/>
<polygon points="1839.58,159.6 1832.78,171.6 1846.38,171.6" fill="#ff0000"/>
<polygon points="1880.43,160.3 1873.63,172.3 1887.23,172.3" fill="#ff0000"/>
<polygon points="1921.28,162.4 1914.48,174.4 1928.08,174.4" fill="#ff0000"/>
<polygon points="1962.12,163.3 1955.33,175.3 1968.92,175.3" fill="#ff0000"/>
<polygon points="2002.98,165.2 1996.18,177.2 2009.78,177.2" fill="#ff0000"/>
<polyline points="1226.83,213 1267.68,210.3 1308.53,201.3 1349.38,193.5 1390.23,184.3 1431.08,172.4 1471.93,165 1512.78,155.1 1553.62,146 1594.48,138.6 1635.33,132.9 1676.18,127.9 1717.03,124.6 1757.88,123 1798.73,121.3 1839.58,122.5 1880.43,122 1921.28,123 1962.12,124 2002.98,127" fill="none" stroke="#00ff00" stroke-width="3.5" stroke-linejoin="round"/>
<rect x="1221.33" y="207.5" width="11" height="11" fill="#00ff00"/>
<rect x="1262.18" y="204.8" width="11" height="11" fill="#00ff00"/>
<rect x="1303.03" y="195.8" width="11" height="11" fill="#00ff00"/>
<rect x="1343.88" y="188" width="11" height="11" fill="#00ff00"/>
<rect x="1384.73" y="178.8" width="11" height="11" fill="#00ff00"/>
<rect x="1425.58" y="166.9" width="11" height="11" fill="#00ff00"/>
<rect x="1466.43" y="159.5" width="11" height="11" fill="#00ff00"/>
<rect x="1507.28" y="149.6" width="11" height="11" fill="#00ff00"/>
<rect x="1548.12" y="140.5" width="11" height="11" fill="#00ff00"/>
<rect x="1588.98" y="133.1" width="11" height="11" fill="#00ff00"/>
<rect x="1629.83" y="127.4" width="11" height="11" fill="#00ff00"/>
<rect x="1670.68" y="122.4" width="11" height="11" fill="#00ff00"/>
<rect x="1711.53" y="119.1" width="11" height="11" fill="#00ff00"/>
<rect x="1752.38" y="117.5" width="11" height="11" fill="#00ff00"/>
<rect x="1793.23" y="115.8" width="11" height="11" fill="#00ff00"/>
<rect x="1834.08" y="117" width="11" height="11" fill="#00ff00"/>
<rect x="1874.93" y="116.5" width="11" height="11" fill="#00ff00"/>
<rect x="1915.78" y="117.5" width="11" height="11" fill="#00ff00"/>
<rect x="1956.62" y="118.5" width="11" height="11" fill="#00ff00"/>
<rect x="1997.48" y="121.5" width="11" height="11" fill="#00ff00"/>
<polyline points="1226.83,233.1 1267.68,235.5 1308.53,233.4 1349.38,224.6 1390.23,223 1431.08,214 1471.93,207.9 1512.78,199.1 1553.62,196.3 1594.48,186.4 1635.33,180.7 1676.18,177.4 1717.03,176.5 1757.88,171.6 1798.73,169.9 1839.58,167.5 1880.43,168.3 1921.28,169.1 1962.12,169.9 2002.98,170.8" fill="none" stroke="#00ff00" stroke-width="3.5" stroke-linejoin="round" stroke-dasharray="3.5 6.3"/>
<rect x="1221.33" y="227.6" width="11" height="11" fill="#00ff00"/>
<rect x="1262.18" y="230" width="11" height="11" fill="#00ff00"/>
<rect x="1303.03" y="227.9" width="11" height="11" fill="#00ff00"/>
<rect x="1343.88" y="219.1" width="11" height="11" fill="#00ff00"/>
<rect x="1384.73" y="217.5" width="11" height="11" fill="#00ff00"/>
<rect x="1425.58" y="208.5" width="11" height="11" fill="#00ff00"/>
<rect x="1466.43" y="202.4" width="11" height="11" fill="#00ff00"/>
<rect x="1507.28" y="193.6" width="11" height="11" fill="#00ff00"/>
<rect x="1548.12" y="190.8" width="11" height="11" fill="#00ff00"/>
<rect x="1588.98" y="180.9" width="11" height="11" fill="#00ff00"/>
<rect x="1629.83" y="175.2" width="11" height="11" fill="#00ff00"/>
<rect x="1670.68" y="171.9" width="11" height="11" fill="#00ff00"/>
<rect x="1711.53" y="171" width="11" height="11" fill="#00ff00"/>
<rect x="1752.38" y="166.1" width="11" height="11" fill="#00ff00"/>
<rect x="1793.23" y="164.4" width="11" height="11" fill="#00ff00"/>
<rect x="1834.08" y="162" width="11" height="11" fill="#00ff00"/>
<rect x="1874.93" y="162.8" width="11" height="11" fill="#00ff00"/>
<rect x="1915.78" y="163.6" width="11" height="11" fill="#00ff00"/>
<rect x="1956.62" y="164.4" width="11" height="11" fill="#00ff00"/>
<rect x="1997.48" y="165.3" width="11" height="11" fill="#00ff00"/>
<polyline points="1226.83,311 1267.68,310.9 1308.53,304 1349.38,286.1 1390.23,262.2 1431.08,250.9 1471.93,228.2 1512.78,212.5 1553.62,190 1594.48,177.4 1635.33,155.6 1676.18,145.7 1717.03,137.8 1757.88,130.4 1798.73,128.2 1839.58,125.4 1880.43,123.8 1921.28,124.6 1962.12,125.4 2002.98,127.9" fill="none" stroke="#0000ff" stroke-width="3.5" stroke-linejoin="round"/>
<polygon points="1226.83,319 1220.03,307 1233.62,307" fill="#0000ff"/>
<polygon points="1267.68,318.9 1260.88,306.9 1274.48,306.9" fill="#0000ff"/>
<polygon points="1308.53,312 1301.73,300 1315.33,300" fill="#0000ff"/>
<polygon points="1349.38,294.1 1342.58,282.1 1356.17,282.1" fill="#0000ff"/>
<polygon points="1390.23,270.2 1383.43,258.2 1397.03,258.2" fill="#0000ff"/>
<polygon points="1431.08,258.9 1424.28,246.9 1437.88,246.9" fill="#0000ff"/>
<polygon points="1471.93,236.2 1465.13,224.2 1478.73,224.2" fill="#0000ff"/>
<polygon points="1512.78,220.5 1505.98,208.5 1519.58,208.5" fill="#0000ff"/>
<polygon points="1553.62,198 1546.83,186 1560.42,186" fill="#0000ff"/>
<polygon points="1594.48,185.4 1587.68,173.4 1601.28,173.4" fill="#0000ff"/>
<polygon points="1635.33,163.6 1628.53,151.6 1642.12,151.6" fill="#0000ff"/>
<polygon points="1676.18,153.7 1669.38,141.7 1682.98,141.7" fill="#0000ff"/>
<polygon points="1717.03,145.8 1710.23,133.8 1723.83,133.8" fill="#0000ff"/>
<polygon points="1757.88,138.4 1751.08,126.4 1764.67,126.4" fill="#0000ff"/>
<polygon points="1798.73,136.2 1791.93,124.2 1805.53,124.2" fill="#0000ff"/>
<polygon points="1839.58,133.4 1832.78,121.4 1846.38,121.4" fill="#0000ff"/>
<polygon points="1880.43,131.8 1873.63,119.8 1887.23,119.8" fill="#0000ff"/>
<polygon points="1921.28,132.6 1914.48,120.6 1928.08,120.6" fill="#0000ff"/>
<polygon points="1962.12,133.4 1955.33,121.4 1968.92,121.4" fill="#0000ff"/>
<polygon points="2002.98,135.9 1996.18,123.9 2009.78,123.9" fill="#0000ff"/>
<polyline points="1226.83,330 1267.68,325.7 1308.53,312.5 1349.38,304 1390.23,288.8 1431.08,278.9 1471.93,271.8 1512.78,254.2 1553.62,236 1594.48,218.6 1635.33,208.9 1676.18,198.2 1717.03,187.7 1757.88,181.1 1798.73,177.7 1839.58,174.4 1880.43,172.4 1921.28,172.4 1962.12,173.2 2002.98,173.2" fill="none" stroke="#0000ff" stroke-width="3.5" stroke-linejoin="round" stroke-dasharray="3.5 6.3"/>
<polygon points="1226.83,338 1220.03,326 1233.62,326" fill="#0000ff"/>
<polygon points="1267.68,333.7 1260.88,321.7 1274.48,321.7" fill="#0000ff"/>
<polygon points="1308.53,320.5 1301.73,308.5 1315.33,308.5" fill="#0000ff"/>
<polygon points="1349.38,312 1342.58,300 1356.17,300" fill="#0000ff"/>
<polygon points="1390.23,296.8 1383.43,284.8 1397.03,284.8" fill="#0000ff"/>
<polygon points="1431.08,286.9 1424.28,274.9 1437.88,274.9" fill="#0000ff"/>
<polygon points="1471.93,279.8 1465.13,267.8 1478.73,267.8" fill="#0000ff"/>
<polygon points="1512.78,262.2 1505.98,250.2 1519.58,250.2" fill="#0000ff"/>
<polygon points="1553.62,244 1546.83,232 1560.42,232" fill="#0000ff"/>
<polygon points="1594.48,226.6 1587.68,214.6 1601.28,214.6" fill="#0000ff"/>
<polygon points="1635.33,216.9 1628.53,204.9 1642.12,204.9" fill="#0000ff"/>
<polygon points="1676.18,206.2 1669.38,194.2 1682.98,194.2" fill="#0000ff"/>
<polygon points="1717.03,195.7 1710.23,183.7 1723.83,183.7" fill="#0000ff"/>
<polygon points="1757.88,189.1 1751.08,177.1 1764.67,177.1" fill="#0000ff"/>
<polygon points="1798.73,185.7 1791.93,173.7 1805.53,173.7" fill="#0000ff"/>
<polygon points="1839.58,182.4 1832.78,170.4 1846.38,170.4" fill="#0000ff"/>
<polygon points="1880.43,180.4 1873.63,168.4 1887.23,168.4" fill="#0000ff"/>
<polygon points="1921.28,180.4 1914.48,168.4 1928.08,168.4" fill="#0000ff"/>
<polygon points="1962.12,181.2 1955.33,169.2 1968.92,169.2" fill="#0000ff"/>
<polygon points="2002.98,181.2 1996.18,169.2 2009.78,169.2" fill="#0000ff"/>
<polyline points="1226.83,412 1267.68,414.5 1308.53,398.8 1349.38,374.9 1390.23,354.2 1431.08,336 1471.93,301 1512.78,264.1 1553.62,242.6 1594.48,218.2 1635.33,182.1 1676.18,165.8 1717.03,147.4 1757.88,137.8 1798.73,132.5 1839.58,127.9 1880.43,126.3 1921.28,126.3 1962.12,127.6 2002.98,129.6" fill="none" stroke="#ffa500" stroke-width="3.5" stroke-linejoin="round"/>
<path d="M1226.83 405.5V418.5M1220.33 412H1233.33M1222.23 407.4L1231.42 416.6M1222.23 416.6L1231.42 407.4" stroke="#ffa500" stroke-width="1.2" fill="none"/>
<path d="M1267.68 408V421M1261.18 414.5H1274.18M1263.08 409.9L1272.28 419.1M1263.08 419.1L1272.28 409.9" stroke="#ffa500" stroke-width="1.2" fill="none"/>
<path d="M1308.53 392.3V405.3M1302.03 398.8H1315.03M1303.93 394.2L1313.12 403.4M1303.93 403.4L1313.12 394.2" stroke="#ffa500" stroke-width="1.2" fill="none"/>
<path d="M1349.38 368.4V381.4M1342.88 374.9H1355.88M1344.78 370.3L1353.97 379.5M1344.78 379.5L1353.97 370.3" stroke="#ffa500" stroke-width="1.2" fill="none"/>
<path d="M1390.23 347.7V360.7M1383.73 354.2H1396.73M1385.63 349.6L1394.83 358.8M1385.63 358.8L1394.83 349.6" stroke="#ffa500" stroke-width="1.2" fill="none"/>
<path d="M1431.08 329.5V342.5M1424.58 336H1437.58M1426.48 331.4L1435.67 340.6M1426.48 340.6L1435.67 331.4" stroke="#ffa500" stroke-width="1.2" fill="none"/>
<path d="M1471.93 294.5V307.5M1465.43 301H1478.43M1467.33 296.4L1476.53 305.6M1467.33 305.6L1476.53 296.4" stroke="#ffa500" stroke-width="1.2" fill="none"/>
<path d="M1512.78 257.6V270.6M1506.28 264.1H1519.28M1508.18 259.5L1517.38 268.7M1508.18 268.7L1517.38 259.5" stroke="#ffa500" stroke-width="1.2" fill="none"/>
<path d="M1553.62 236.1V249.1M1547.12 242.6H1560.12M1549.03 238L1558.22 247.2M1549.03 247.2L1558.22 238" stroke="#ffa500" stroke-width="1.2" fill="none"/>
<path d="M1594.48 211.7V224.7M1587.98 218.2H1600.98M1589.88 213.6L1599.08 222.8M1589.88 222.8L1599.08 213.6" stroke="#ffa500" stroke-width="1.2" fill="none"/>
<path d="M1635.33 175.6V188.6M1628.83 182.1H1641.83M1630.73 177.5L1639.92 186.7M1630.73 186.7L1639.92 177.5" stroke="#ffa500" stroke-width="1.2" fill="none"/>
<path d="M1676.18 159.3V172.3M1669.68 165.8H1682.68M1671.58 161.2L1680.78 170.4M1671.58 170.4L1680.78 161.2" stroke="#ffa500" stroke-width="1.2" fill="none"/>
<path d="M1717.03 140.9V153.9M1710.53 147.4H1723.53M1712.43 142.8L1721.62 152M1712.43 152L1721.62 142.8" stroke="#ffa500" stroke-width="1.2" fill="none"/>
<path d="M1757.88 131.3V144.3M1751.38 137.8H1764.38M1753.28 133.2L1762.47 142.4M1753.28 142.4L1762.47 133.2" stroke="#ffa500" stroke-width="1.2" fill="none"/>
<path d="M1798.73 126V139M1792.23 132.5H1805.23M1794.13 127.9L1803.33 137.1M1794.13 137.1L1803.33 127.9" stroke="#ffa500" stroke-width="1.2" fill="none"/>
<path d="M1839.58 121.4V134.4M1833.08 127.9H1846.08M1834.98 123.3L1844.18 132.5M1834.98 132.5L1844.18 123.3" stroke="#ffa500" stroke-width="1.2" fill="none"/>
<path d="M1880.43 119.8V132.8M1873.93 126.3H1886.93M1875.83 121.7L1885.03 130.9M1875.83 130.9L1885.03 121.7" stroke="#ffa500" stroke-width="1.2" fill="none"/>
<path d="M1921.28 119.8V132.8M1914.78 126.3H1927.78M1916.68 121.7L1925.88 130.9M1916.68 130.9L1925.88 121.7" stroke="#ffa500" stroke-width="1.2" fill="none"/>
<path d="M1962.12 121.1V134.1M1955.62 127.6H1968.62M1957.53 123L1966.72 132.2M1957.53 132.2L1966.72 123" stroke="#ffa500" stroke-width="1.2" fill="none"/>
<path d="M2002.98 123.1V136.1M1996.48 129.6H2009.48M1998.38 125L2007.58 134.2M1998.38 134.2L2007.58 125" stroke="#ffa500" stroke-width="1.2" fill="none"/>
<polyline points="1226.83,411.2 1267.68,403.8 1308.53,398 1349.38,392.4 1390.23,377.8 1431.08,351.1 1471.93,330.5 1512.78,319.6 1553.62,285 1594.48,259.4 1635.33,246.1 1676.18,217.2 1717.03,204.6 1757.88,193.4 1798.73,186.7 1839.58,179.8 1880.43,174.9 1921.28,174.9 1962.12,174.1 2002.98,174.9" fill="none" stroke="#ffa500" stroke-width="3.5" stroke-linejoin="round" stroke-dasharray="3.5 6.3"/>
<path d="M1226.83 404.7V417.7M1220.33 411.2H1233.33M1222.23 406.6L1231.42 415.8M1222.23 415.8L1231.42 406.6" stroke="#ffa500" stroke-width="1.2" fill="none"/>
<path d="M1267.68 397.3V410.3M1261.18 403.8H1274.18M1263.08 399.2L1272.28 408.4M1263.08 408.4L1272.28 399.2" stroke="#ffa500" stroke-width="1.2" fill="none"/>
<path d="M1308.53 391.5V404.5M1302.03 398H1315.03M1303.93 393.4L1313.12 402.6M1303.93 402.6L1313.12 393.4" stroke="#ffa500" stroke-width="1.2" fill="none"/>
<path d="M1349.38 385.9V398.9M1342.88 392.4H1355.88M1344.78 387.8L1353.97 397M1344.78 397L1353.97 387.8" stroke="#ffa500" stroke-width="1.2" fill="none"/>
<path d="M1390.23 371.3V384.3M1383.73 377.8H1396.73M1385.63 373.2L1394.83 382.4M1385.63 382.4L1394.83 373.2" stroke="#ffa500" stroke-width="1.2" fill="none"/>
<path d="M1431.08 344.6V357.6M1424.58 351.1H1437.58M1426.48 346.5L1435.67 355.7M1426.48 355.7L1435.67 346.5" stroke="#ffa500" stroke-width="1.2" fill="none"/>
<path d="M1471.93 324V337M1465.43 330.5H1478.43M1467.33 325.9L1476.53 335.1M1467.33 335.1L1476.53 325.9" stroke="#ffa500" stroke-width="1.2" fill="none"/>
<path d="M1512.78 313.1V326.1M1506.28 319.6H1519.28M1508.18 315L1517.38 324.2M1508.18 324.2L1517.38 315" stroke="#ffa500" stroke-width="1.2" fill="none"/>
<path d="M1553.62 278.5V291.5M1547.12 285H1560.12M1549.03 280.4L1558.22 289.6M1549.03 289.6L1558.22 280.4" stroke="#ffa500" stroke-width="1.2" fill="none"/>
<path d="M1594.48 252.9V265.9M1587.98 259.4H1600.98M1589.88 254.8L1599.08 264M1589.88 264L1599.08 254.8" stroke="#ffa500" stroke-width="1.2" fill="none"/>
<path d="M1635.33 239.6V252.6M1628.83 246.1H1641.83M1630.73 241.5L1639.92 250.7M1630.73 250.7L1639.92 241.5" stroke="#ffa500" stroke-width="1.2" fill="none"/>
<path d="M1676.18 210.7V223.7M1669.68 217.2H1682.68M1671.58 212.6L1680.78 221.8M1671.58 221.8L1680.78 212.6" stroke="#ffa500" stroke-width="1.2" fill="none"/>
<path d="M1717.03 198.1V211.1M1710.53 204.6H1723.53M1712.43 200L1721.62 209.2M1712.43 209.2L1721.62 200" stroke="#ffa500" stroke-width="1.2" fill="none"/>
<path d="M1757.88 186.9V199.9M1751.38 193.4H1764.38M1753.28 188.8L1762.47 198M1753.28 198L1762.47 188.8" stroke="#ffa500" stroke-width="1.2" fill="none"/>
<path d="M1798.73 180.2V193.2M1792.23 186.7H1805.23M1794.13 182.1L1803.33 191.3M1794.13 191.3L1803.33 182.1" stroke="#ffa500" stroke-width="1.2" fill="none"/>
<path d="M1839.58 173.3V186.3M1833.08 179.8H1846.08M1834.98 175.2L1844.18 184.4M1834.98 184.4L1844.18 175.2" stroke="#ffa500" stroke-width="1.2" fill="none"/>
<path d="M1880.43 168.4V181.4M1873.93 174.9H1886.93M1875.83 170.3L1885.03 179.5M1875.83 179.5L1885.03 170.3" stroke="#ffa500" stroke-width="1.2" fill="none"/>
<path d="M1921.28 168.4V181.4M1914.78 174.9H1927.78M1916.68 170.3L1925.88 179.5M1916.68 179.5L1925.88 170.3" stroke="#ffa500" stroke-width="1.2" fill="none"/>
<path d="M1962.12 167.6V180.6M1955.62 174.1H1968.62M1957.53 169.5L1966.72 178.7M1957.53 178.7L1966.72 169.5" stroke="#ffa500" stroke-width="1.2" fill="none"/>
<path d="M2002.98 168.4V181.4M1996.48 174.9H2009.48M1998.38 170.3L2007.58 179.5M1998.38 179.5L2007.58 170.3" stroke="#ffa500" stroke-width="1.2" fill="none"/>
<polyline points="1226.83,484.7 1267.68,509.5 1308.53,477.1 1349.38,459.8 1390.23,445 1431.08,433 1471.93,405 1512.78,353.1 1553.62,310.9 1594.48,275.5 1635.33,236.3 1676.18,200 1717.03,171.2 1757.88,150.7 1798.73,140.3 1839.58,135 1880.43,131.5 1921.28,131.5 1962.12,130.1 2002.98,130.2" fill="none" stroke="#670748" stroke-width="3.5" stroke-linejoin="round"/>
<polygon points="1226.83,478 1233.53,484.7 1226.83,491.4 1220.12,484.7" fill="#670748"/>
<polygon points="1267.68,502.8 1274.38,509.5 1267.68,516.2 1260.98,509.5" fill="#670748"/>
<polygon points="1308.53,470.4 1315.23,477.1 1308.53,483.8 1301.83,477.1" fill="#670748"/>
<polygon points="1349.38,453.1 1356.08,459.8 1349.38,466.5 1342.67,459.8" fill="#670748"/>
<polygon points="1390.23,438.3 1396.93,445 1390.23,451.7 1383.53,445" fill="#670748"/>
<polygon points="1431.08,426.3 1437.78,433 1431.08,439.7 1424.38,433" fill="#670748"/>
<polygon points="1471.93,398.3 1478.63,405 1471.93,411.7 1465.23,405" fill="#670748"/>
<polygon points="1512.78,346.4 1519.48,353.1 1512.78,359.8 1506.08,353.1" fill="#670748"/>
<polygon points="1553.62,304.2 1560.33,310.9 1553.62,317.6 1546.92,310.9" fill="#670748"/>
<polygon points="1594.48,268.8 1601.18,275.5 1594.48,282.2 1587.78,275.5" fill="#670748"/>
<polygon points="1635.33,229.6 1642.03,236.3 1635.33,243 1628.62,236.3" fill="#670748"/>
<polygon points="1676.18,193.3 1682.88,200 1676.18,206.7 1669.48,200" fill="#670748"/>
<polygon points="1717.03,164.5 1723.73,171.2 1717.03,177.9 1710.33,171.2" fill="#670748"/>
<polygon points="1757.88,144 1764.58,150.7 1757.88,157.4 1751.17,150.7" fill="#670748"/>
<polygon points="1798.73,133.6 1805.43,140.3 1798.73,147 1792.03,140.3" fill="#670748"/>
<polygon points="1839.58,128.3 1846.28,135 1839.58,141.7 1832.88,135" fill="#670748"/>
<polygon points="1880.43,124.8 1887.13,131.5 1880.43,138.2 1873.73,131.5" fill="#670748"/>
<polygon points="1921.28,124.8 1927.98,131.5 1921.28,138.2 1914.58,131.5" fill="#670748"/>
<polygon points="1962.12,123.4 1968.83,130.1 1962.12,136.8 1955.42,130.1" fill="#670748"/>
<polygon points="2002.98,123.5 2009.68,130.2 2002.98,136.9 1996.28,130.2" fill="#670748"/>
<polyline points="1226.83,478.1 1267.68,481.2 1308.53,446.2 1349.38,449.9 1390.23,441.2 1431.08,441.3 1471.93,418.2 1512.78,379.1 1553.62,344 1594.48,319 1635.33,289.1 1676.18,255.7 1717.03,228.5 1757.88,204.2 1798.73,194.1 1839.58,185.6 1880.43,182 1921.28,180.3 1962.12,176 2002.98,177" fill="none" stroke="#670748" stroke-width="3.5" stroke-linejoin="round" stroke-dasharray="3.5 6.3"/>
<polygon points="1226.83,471.4 1233.53,478.1 1226.83,484.8 1220.12,478.1" fill="#670748"/>
<polygon points="1267.68,474.5 1274.38,481.2 1267.68,487.9 1260.98,481.2" fill="#670748"/>
<polygon points="1308.53,439.5 1315.23,446.2 1308.53,452.9 1301.83,446.2" fill="#670748"/>
<polygon points="1349.38,443.2 1356.08,449.9 1349.38,456.6 1342.67,449.9" fill="#670748"/>
<polygon points="1390.23,434.5 1396.93,441.2 1390.23,447.9 1383.53,441.2" fill="#670748"/>
<polygon points="1431.08,434.6 1437.78,441.3 1431.08,448 1424.38,441.3" fill="#670748"/>
<polygon points="1471.93,411.5 1478.63,418.2 1471.93,424.9 1465.23,418.2" fill="#670748"/>
<polygon points="1512.78,372.4 1519.48,379.1 1512.78,385.8 1506.08,379.1" fill="#670748"/>
<polygon points="1553.62,337.3 1560.33,344 1553.62,350.7 1546.92,344" fill="#670748"/>
<polygon points="1594.48,312.3 1601.18,319 1594.48,325.7 1587.78,319" fill="#670748"/>
<polygon points="1635.33,282.4 1642.03,289.1 1635.33,295.8 1628.62,289.1" fill="#670748"/>
<polygon points="1676.18,249 1682.88,255.7 1676.18,262.4 1669.48,255.7" fill="#670748"/>
<polygon points="1717.03,221.8 1723.73,228.5 1717.03,235.2 1710.33,228.5" fill="#670748"/>
<polygon points="1757.88,197.5 1764.58,204.2 1757.88,210.9 1751.17,204.2" fill="#670748"/>
<polygon points="1798.73,187.4 1805.43,194.1 1798.73,200.8 1792.03,194.1" fill="#670748"/>
<polygon points="1839.58,178.9 1846.28,185.6 1839.58,192.3 1832.88,185.6" fill="#670748"/>
<polygon points="1880.43,175.3 1887.13,182 1880.43,188.7 1873.73,182" fill="#670748"/>
<polygon points="1921.28,173.6 1927.98,180.3 1921.28,187 1914.58,180.3" fill="#670748"/>
<polygon points="1962.12,169.3 1968.83,176 1962.12,182.7 1955.42,176" fill="#670748"/>
<polygon points="2002.98,170.3 2009.68,177 2002.98,183.7 1996.28,177" fill="#670748"/>
<rect x="781" y="334" width="197" height="275.5" fill="#fff"/>
<circle cx="793.5" cy="354.5" r="6.5" fill="#000000"/>
<text x="807.7" y="359.8" font-size="34"><tspan font-family="'DejaVu Serif Condensed', 'DejaVu Serif', serif" stroke="#000" stroke-width="0.5">σ</tspan><tspan x="829.4">/k</tspan><tspan font-size="25.3" dy="12.7">B</tspan><tspan dy="-12.7">T </tspan><tspan dx="-0.8" dy="3" stroke="#000" stroke-width="0.35">=</tspan><tspan dx="0.8" dy="-3"> 1.0</tspan></text>
<polygon points="793.5,391.75 786.7,403.75 800.3,403.75" fill="#ff0000"/>
<text x="807.7" y="405.05" font-size="34"><tspan font-family="'DejaVu Serif Condensed', 'DejaVu Serif', serif" stroke="#000" stroke-width="0.5">σ</tspan><tspan x="829.4">/k</tspan><tspan font-size="25.3" dy="12.7">B</tspan><tspan dy="-12.7">T </tspan><tspan dx="-0.8" dy="3" stroke="#000" stroke-width="0.35">=</tspan><tspan dx="0.8" dy="-3"> 2.0</tspan></text>
<rect x="788" y="439.5" width="11" height="11" fill="#00ff00"/>
<text x="807.7" y="450.3" font-size="34"><tspan font-family="'DejaVu Serif Condensed', 'DejaVu Serif', serif" stroke="#000" stroke-width="0.5">σ</tspan><tspan x="829.4">/k</tspan><tspan font-size="25.3" dy="12.7">B</tspan><tspan dy="-12.7">T </tspan><tspan dx="-0.8" dy="3" stroke="#000" stroke-width="0.35">=</tspan><tspan dx="0.8" dy="-3"> 2.0</tspan></text>
<polygon points="793.5,498.25 786.7,486.25 800.3,486.25" fill="#0000ff"/>
<text x="807.7" y="495.55" font-size="34"><tspan font-family="'DejaVu Serif Condensed', 'DejaVu Serif', serif" stroke="#000" stroke-width="0.5">σ</tspan><tspan x="829.4">/k</tspan><tspan font-size="25.3" dy="12.7">B</tspan><tspan dy="-12.7">T </tspan><tspan dx="-0.8" dy="3" stroke="#000" stroke-width="0.35">=</tspan><tspan dx="0.8" dy="-3"> 3.0</tspan></text>
<path d="M793.5 529V542M787 535.5H800M788.9 530.9L798.1 540.1M788.9 540.1L798.1 530.9" stroke="#ffa500" stroke-width="1.2" fill="none"/>
<text x="807.7" y="540.8" font-size="34"><tspan font-family="'DejaVu Serif Condensed', 'DejaVu Serif', serif" stroke="#000" stroke-width="0.5">σ</tspan><tspan x="829.4">/k</tspan><tspan font-size="25.3" dy="12.7">B</tspan><tspan dy="-12.7">T </tspan><tspan dx="-0.8" dy="3" stroke="#000" stroke-width="0.35">=</tspan><tspan dx="0.8" dy="-3"> 5.0</tspan></text>
<polygon points="793.5,574.05 800.2,580.75 793.5,587.45 786.8,580.75" fill="#670748"/>
<text x="807.7" y="586.05" font-size="34"><tspan font-family="'DejaVu Serif Condensed', 'DejaVu Serif', serif" stroke="#000" stroke-width="0.5">σ</tspan><tspan x="829.4">/k</tspan><tspan font-size="25.3" dy="12.7">B</tspan><tspan dy="-12.7">T </tspan><tspan dx="-0.8" dy="3" stroke="#000" stroke-width="0.35">=</tspan><tspan dx="0.8" dy="-3"> 6.0</tspan></text>
<rect x="1805" y="334" width="197" height="275.5" fill="#fff"/>
<circle cx="1817.5" cy="354.5" r="6.5" fill="#000000"/>
<text x="1831.7" y="359.8" font-size="34"><tspan font-family="'DejaVu Serif Condensed', 'DejaVu Serif', serif" stroke="#000" stroke-width="0.5">σ</tspan><tspan x="1853.4">/k</tspan><tspan font-size="25.3" dy="12.7">B</tspan><tspan dy="-12.7">T </tspan><tspan dx="-0.8" dy="3" stroke="#000" stroke-width="0.35">=</tspan><tspan dx="0.8" dy="-3"> 1.0</tspan></text>
<polygon points="1817.5,391.75 1810.7,403.75 1824.3,403.75" fill="#ff0000"/>
<text x="1831.7" y="405.05" font-size="34"><tspan font-family="'DejaVu Serif Condensed', 'DejaVu Serif', serif" stroke="#000" stroke-width="0.5">σ</tspan><tspan x="1853.4">/k</tspan><tspan font-size="25.3" dy="12.7">B</tspan><tspan dy="-12.7">T </tspan><tspan dx="-0.8" dy="3" stroke="#000" stroke-width="0.35">=</tspan><tspan dx="0.8" dy="-3"> 2.0</tspan></text>
<rect x="1812" y="439.5" width="11" height="11" fill="#00ff00"/>
<text x="1831.7" y="450.3" font-size="34"><tspan font-family="'DejaVu Serif Condensed', 'DejaVu Serif', serif" stroke="#000" stroke-width="0.5">σ</tspan><tspan x="1853.4">/k</tspan><tspan font-size="25.3" dy="12.7">B</tspan><tspan dy="-12.7">T </tspan><tspan dx="-0.8" dy="3" stroke="#000" stroke-width="0.35">=</tspan><tspan dx="0.8" dy="-3"> 3.0</tspan></text>
<polygon points="1817.5,498.25 1810.7,486.25 1824.3,486.25" fill="#0000ff"/>
<text x="1831.7" y="495.55" font-size="34"><tspan font-family="'DejaVu Serif Condensed', 'DejaVu Serif', serif" stroke="#000" stroke-width="0.5">σ</tspan><tspan x="1853.4">/k</tspan><tspan font-size="25.3" dy="12.7">B</tspan><tspan dy="-12.7">T </tspan><tspan dx="-0.8" dy="3" stroke="#000" stroke-width="0.35">=</tspan><tspan dx="0.8" dy="-3"> 4.0</tspan></text>
<path d="M1817.5 529V542M1811 535.5H1824M1812.9 530.9L1822.1 540.1M1812.9 540.1L1822.1 530.9" stroke="#ffa500" stroke-width="1.2" fill="none"/>
<text x="1831.7" y="540.8" font-size="34"><tspan font-family="'DejaVu Serif Condensed', 'DejaVu Serif', serif" stroke="#000" stroke-width="0.5">σ</tspan><tspan x="1853.4">/k</tspan><tspan font-size="25.3" dy="12.7">B</tspan><tspan dy="-12.7">T </tspan><tspan dx="-0.8" dy="3" stroke="#000" stroke-width="0.35">=</tspan><tspan dx="0.8" dy="-3"> 5.0</tspan></text>
<polygon points="1817.5,574.05 1824.2,580.75 1817.5,587.45 1810.8,580.75" fill="#670748"/>
<text x="1831.7" y="586.05" font-size="34"><tspan font-family="'DejaVu Serif Condensed', 'DejaVu Serif', serif" stroke="#000" stroke-width="0.5">σ</tspan><tspan x="1853.4">/k</tspan><tspan font-size="25.3" dy="12.7">B</tspan><tspan dy="-12.7">T </tspan><tspan dx="-0.8" dy="3" stroke="#000" stroke-width="0.35">=</tspan><tspan dx="0.8" dy="-3"> 6.0</tspan></text>
<text x="513.4" y="701.8" font-size="51">F(<tspan font-family="'DejaVu Serif Condensed', 'DejaVu Serif', serif" stroke="#000" stroke-width="0.6">σ</tspan><tspan x="591.05">/eb)</tspan></text>
<text x="1537.8" y="701.8" font-size="51">F(<tspan font-family="'DejaVu Serif Condensed', 'DejaVu Serif', serif" stroke="#000" stroke-width="0.6">σ</tspan><tspan x="1615.45">/eb)</tspan></text>
<text transform="translate(47.5,382.5) rotate(-90)" font-size="51"><tspan font-family="'DejaVu Serif Condensed', 'DejaVu Serif', serif">μ</tspan><tspan x="30.58">(</tspan><tspan x="46.57" font-family="'DejaVu Serif Condensed', 'DejaVu Serif', serif">μ</tspan><tspan x="76.35" font-size="35.5" dy="18.3">0</tspan><tspan x="94.1" dy="-18.3">)</tspan></text>
<text transform="translate(1070.3,382.5) rotate(-90)" font-size="51"><tspan font-family="'DejaVu Serif Condensed', 'DejaVu Serif', serif">μ</tspan><tspan x="30.58">(</tspan><tspan x="46.57" font-family="'DejaVu Serif Condensed', 'DejaVu Serif', serif">μ</tspan><tspan x="76.35" font-size="35.5" dy="18.3">0</tspan><tspan x="94.1" dy="-18.3">)</tspan></text>
<line x1="333.9" y1="556.9" x2="380.9" y2="556.9" stroke="#000" stroke-width="5.9"/>
<line x1="329" y1="582" x2="375" y2="582" stroke="#000" stroke-width="5.9" stroke-dasharray="6 13.5"/>
<text x="381.9" y="565.1" font-size="43">without spatial disorder</text>
<text x="381.2" y="592.6" font-size="43">with spatial disorder</text>
<line x1="1325.9" y1="502.7" x2="1371.9" y2="502.7" stroke="#000" stroke-width="5.9"/>
<line x1="1318.2" y1="553" x2="1364" y2="553" stroke="#000" stroke-width="5.9" stroke-dasharray="6 13.5"/>
<text x="1374.3" y="506.9" font-size="43">without spatial disorder</text>
<text x="1371.2" y="564.6" font-size="43">with spatial disorder</text>
<text y="812.6" font-size="86"><tspan x="464.92">(</tspan><tspan x="492.24" font-weight="bold" font-size="82.5">a</tspan><tspan x="533.35">)</tspan></text>
<text y="812.6" font-size="86"><tspan x="1485.42">(</tspan><tspan x="1510.9" font-weight="bold" font-size="87">b</tspan><tspan x="1562.25">)</tspan></text>
</svg></body></html>
